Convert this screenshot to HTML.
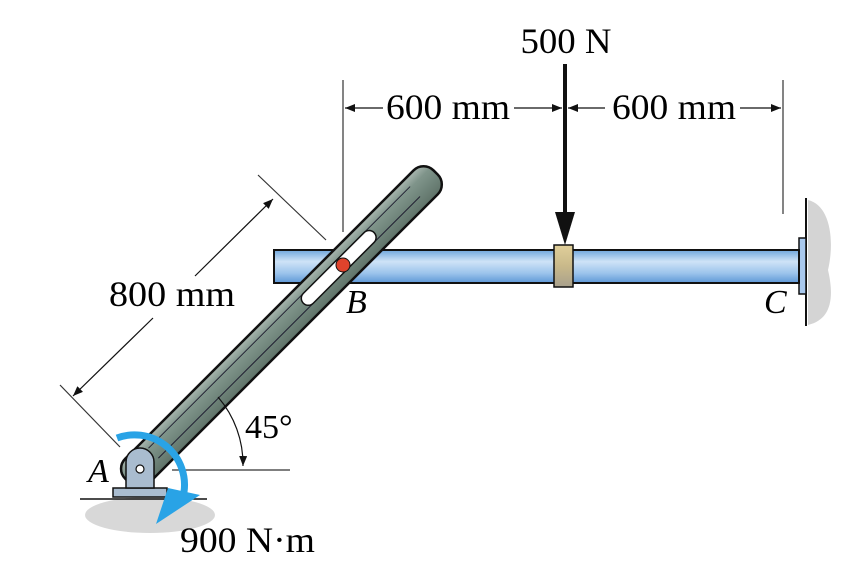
<!DOCTYPE html>
<html><head><meta charset="utf-8"><style>html,body{margin:0;padding:0;background:#fff}svg{display:block}</style></head>
<body>
<svg width="865" height="566" viewBox="0 0 865 566" xmlns="http://www.w3.org/2000/svg" font-family="'Liberation Serif', serif">
<defs>
<linearGradient id="rod" x1="0" y1="0" x2="0" y2="1">
<stop offset="0" stop-color="#6fa6dc"/><stop offset="0.35" stop-color="#cfe3f7"/><stop offset="0.7" stop-color="#9cc4ec"/><stop offset="1" stop-color="#5e98d6"/></linearGradient>
<linearGradient id="col" x1="0" y1="0" x2="0" y2="1"><stop offset="0" stop-color="#e0cf9a"/><stop offset="0.5" stop-color="#c9b98a"/><stop offset="1" stop-color="#a8a08c"/></linearGradient>
<linearGradient id="bar" x1="0" y1="0" x2="0" y2="1"><stop offset="0" stop-color="#aab7b0"/><stop offset="0.3" stop-color="#7f948a"/><stop offset="1" stop-color="#5f7369"/></linearGradient>
<marker id="ah" markerWidth="10" markerHeight="8" refX="10" refY="4" orient="auto" markerUnits="userSpaceOnUse"><path d="M0,0 L10,4 L0,8 Z" fill="#111"/></marker>
</defs>
<ellipse cx="150" cy="515" rx="65" ry="18" fill="#d8d8d8"/>
<path d="M808,200 C830,205 835,240 828,270 C835,300 830,320 808,325 Z" fill="#d4d4d4"/>
<line x1="806" y1="198" x2="806" y2="326" stroke="#111" stroke-width="2"/>
<rect x="799" y="238" width="7" height="56" fill="#a9c9ee" stroke="#111" stroke-width="1.5"/>
<rect x="274" y="250" width="525" height="33" fill="url(#rod)" stroke="#111" stroke-width="2"/>
<rect x="554" y="245" width="19" height="42" fill="url(#col)" stroke="#111" stroke-width="1.5"/>
<line x1="343" y1="80" x2="343" y2="232" stroke="#333" stroke-width="1.2"/>
<line x1="783" y1="80" x2="783" y2="214" stroke="#333" stroke-width="1.2"/>
<line x1="383" y1="108" x2="345" y2="108" stroke="#111" stroke-width="1.2" marker-end="url(#ah)"/>
<line x1="514" y1="108" x2="562" y2="108" stroke="#111" stroke-width="1.2" marker-end="url(#ah)"/>
<line x1="605" y1="108" x2="568" y2="108" stroke="#111" stroke-width="1.2" marker-end="url(#ah)"/>
<line x1="740" y1="108" x2="781" y2="108" stroke="#111" stroke-width="1.2" marker-end="url(#ah)"/>
<text x="448" y="119" font-size="36" text-anchor="middle" textLength="124" lengthAdjust="spacingAndGlyphs">600 mm</text>
<text x="674" y="119" font-size="36" text-anchor="middle" textLength="124" lengthAdjust="spacingAndGlyphs">600 mm</text>
<text x="566" y="53" font-size="36" text-anchor="middle" textLength="91" lengthAdjust="spacingAndGlyphs">500 N</text>
<line x1="565" y1="64" x2="565" y2="215" stroke="#111" stroke-width="4"/>
<path d="M555,212 L575,212 L565,245 Z" fill="#111"/>
<g transform="translate(140,468) rotate(-45)">
<rect x="-18" y="-17" width="436" height="34" rx="14" fill="url(#bar)" stroke="#111" stroke-width="2.5"/>
<line x1="20" y1="6" x2="390" y2="6" stroke="#223" stroke-width="1"/>
<line x1="20" y1="-8" x2="390" y2="-8" stroke="#223" stroke-width="1"/>
<rect x="232" y="-8" width="100" height="14" rx="7" fill="#fff" stroke="#111" stroke-width="1.5"/>
</g>
<circle cx="343" cy="265" r="7" fill="#e0432c" stroke="#111" stroke-width="1"/>
<line x1="258" y1="175" x2="326" y2="240" stroke="#333" stroke-width="1.2"/>
<line x1="60" y1="385" x2="120" y2="447" stroke="#333" stroke-width="1.2"/>
<line x1="195" y1="276" x2="273" y2="199" stroke="#111" stroke-width="1.2" marker-end="url(#ah)"/>
<line x1="153" y1="318" x2="73" y2="396" stroke="#111" stroke-width="1.2" marker-end="url(#ah)"/>
<text x="172" y="306" font-size="36" text-anchor="middle" textLength="126" lengthAdjust="spacingAndGlyphs">800 mm</text>
<line x1="172" y1="470" x2="290" y2="470" stroke="#333" stroke-width="1.2"/>
<path d="M218,397 A103,103 0 0 1 243,466" fill="none" stroke="#111" stroke-width="1.2" marker-end="url(#ah)"/>
<text x="245" y="438" font-size="34">45°</text>
<rect x="113" y="488" width="54" height="9" fill="#a9bccf" stroke="#111" stroke-width="1.5"/>
<path d="M126,488 L126,462 A14,14 0 0 1 154,462 L154,488 Z" fill="#a9bccf" stroke="#111" stroke-width="1.5"/>
<circle cx="140" cy="469" r="4" fill="#fff" stroke="#111" stroke-width="1.2"/>
<line x1="80" y1="499" x2="207" y2="499" stroke="#111" stroke-width="1.5"/>
<path d="M117,438 A50,50 0 0 1 184,492" fill="none" stroke="#29a3e6" stroke-width="7"/>
<path d="M168,488 L200,495 L156,524 Z" fill="#29a3e6"/>
<text x="88" y="482" font-size="34" font-style="italic">A</text>
<text x="346" y="313" font-size="34" font-style="italic">B</text>
<text x="764" y="313" font-size="34" font-style="italic">C</text>
<text x="180" y="552" font-size="36" textLength="135" lengthAdjust="spacingAndGlyphs">900 N·m</text>
</svg>
</body></html>
